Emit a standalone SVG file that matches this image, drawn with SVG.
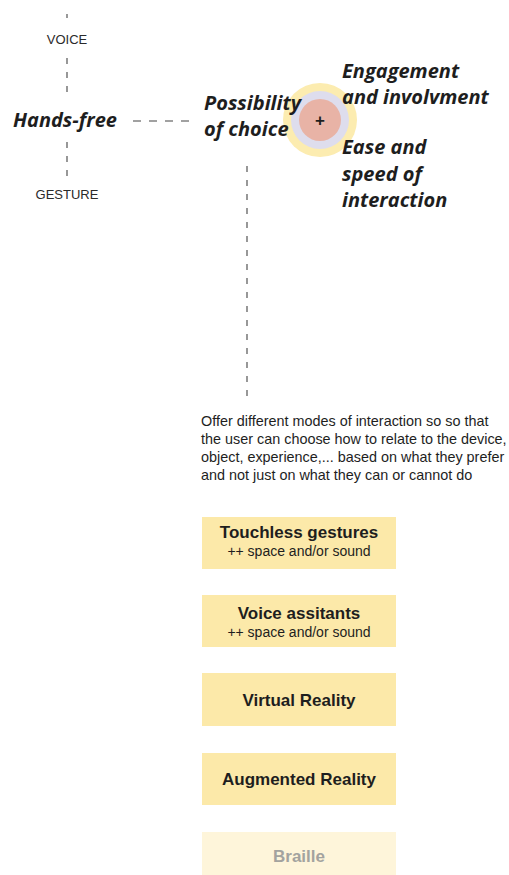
<svg xmlns="http://www.w3.org/2000/svg" width="509" height="875" viewBox="0 0 509 875">
<style>
.cap{font-family:"Liberation Sans",Arial,sans-serif;font-size:13px;fill:#2a2a2a;text-anchor:middle}
.hd{font-family:"Open Sans","Liberation Sans",sans-serif;font-weight:700;font-style:italic;font-size:20px;fill:#1e1e1e}
.para{font-family:"Liberation Sans",Arial,sans-serif;font-size:14.4px;fill:#1e1e1e}
.box{fill:#fce9a9}
.bt{font-family:"Liberation Sans",Arial,sans-serif;font-weight:700;font-size:17px;fill:#1e1e1e;text-anchor:middle}
.bs{font-family:"Liberation Sans",Arial,sans-serif;font-size:14px;fill:#1e1e1e;text-anchor:middle}
.dash{stroke:#444;stroke-width:1.1;fill:none}
</style>
<g id="connectors">
<line class="dash" x1="67" y1="14" x2="67" y2="18"/>
<line class="dash" x1="67" y1="58" x2="67" y2="94" stroke-dasharray="6,8"/>
<line class="dash" x1="67" y1="142" x2="67" y2="178" stroke-dasharray="6,8"/>
<line class="dash" x1="133" y1="121" x2="189" y2="121" stroke-dasharray="8,8"/>
<line class="dash" x1="247" y1="166" x2="247" y2="402" stroke-dasharray="6,8"/>
</g>
<g id="target">
<circle cx="320" cy="120" r="37" fill="#fcecb0"/>
<circle cx="320" cy="120" r="29" fill="#dedded"/>
<circle cx="320" cy="120" r="21" fill="#e8b3a6"/>
<text x="320" y="126" text-anchor="middle" font-family="Liberation Sans,Arial,sans-serif" font-weight="700" font-size="17" fill="#1e1e1e">+</text>
</g>
<g id="voice"><text class="cap" x="67" y="44">VOICE</text></g>
<g id="gesture"><text class="cap" x="67" y="199">GESTURE</text></g>
<g id="hands-free"><text class="hd" x="13" y="127">Hands-free</text></g>
<g id="possibility"><text class="hd" x="204" y="110">Possibility</text><text class="hd" x="204" y="136">of choice</text></g>
<g id="engagement"><text class="hd" x="342" y="78">Engagement</text><text class="hd" x="342" y="104">and involvment</text></g>
<g id="ease"><text class="hd" x="342" y="154">Ease and</text><text class="hd" x="342" y="181">speed of</text><text class="hd" x="342" y="207">interaction</text></g>
<g id="description">
<text class="para" x="201" y="426">Offer different modes of interaction so so that</text>
<text class="para" x="201" y="444">the user can choose how to relate to the device,</text>
<text class="para" x="201" y="462">object, experience,... based on what they prefer</text>
<text class="para" x="201" y="480">and not just on what they can or cannot do</text>
</g>
<g id="touchless"><rect class="box" x="202" y="517" width="194" height="52"/><text class="bt" x="299" y="538">Touchless gestures</text><text class="bs" x="299" y="556">++ space and/or sound</text></g>
<g id="voice-assistants"><rect class="box" x="202" y="595" width="194" height="52"/><text class="bt" x="299" y="619">Voice assitants</text><text class="bs" x="299" y="637">++ space and/or sound</text></g>
<g id="vr"><rect class="box" x="202" y="673" width="194" height="53"/><text class="bt" x="299" y="706">Virtual Reality</text></g>
<g id="ar"><rect class="box" x="202" y="753" width="194" height="52"/><text class="bt" x="299" y="785">Augmented Reality</text></g>
<g id="braille"><rect x="202" y="832" width="194" height="43" fill="#fef5da"/><text class="bt" x="299" y="862" style="fill:#a3a39f">Braille</text></g>
</svg>
